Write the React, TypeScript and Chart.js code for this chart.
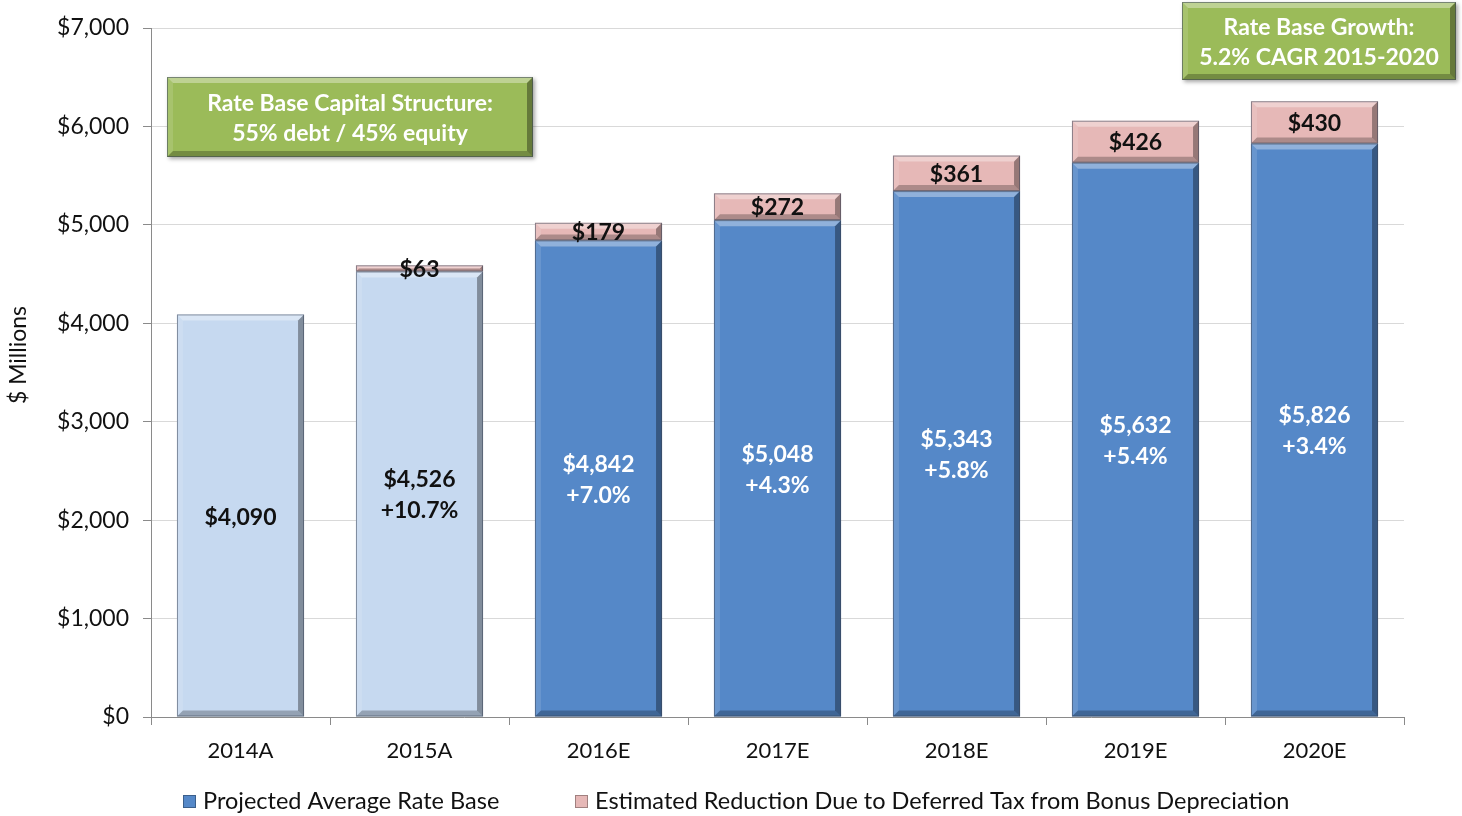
import React, { useEffect, useRef } from "react";
import { Chart, registerables } from "chart.js";

Chart.register(...registerables);

const categories = ["2014A", "2015A", "2016E", "2017E", "2018E", "2019E", "2020E"];
const rateBase = [4090, 4526, 4842, 5048, 5343, 5632, 5826];
const reduction = [0, 63, 179, 272, 361, 426, 430];
const rateBaseLabels = ["$4,090", "$4,526", "$4,842", "$5,048", "$5,343", "$5,632", "$5,826"];
const growthLabels = ["", "+10.7%", "+7.0%", "+4.3%", "+5.8%", "+5.4%", "+3.4%"];
const reductionLabels = ["", "$63", "$179", "$272", "$361", "$426", "$430"];
const yTicks = [0, 1000, 2000, 3000, 4000, 5000, 6000, 7000];
const seriesNames = ["Projected Average Rate Base", "Estimated Reduction Due to Deferred Tax from Bonus Depreciation"];
const yTitle = "$ Millions";

const FONT = "Lato, 'Open Sans', sans-serif";
const LIGHT_BLUE = "rgb(198,217,240)";
const DARK_BLUE = "rgb(85,136,200)";
const PINK = "rgb(230,184,183)";
const GREEN = "rgb(155,187,89)";

function bevel(ctx: CanvasRenderingContext2D, x0: number, y0: number, x1: number, y1: number, s: number) {
  const h = y1 - y0;
  const w = x1 - x0;
  const t = Math.min(s, h / 2, w / 2);
  if (h <= 1) return;
  ctx.save();
  ctx.fillStyle = "rgba(255,255,255,0.35)";
  ctx.beginPath();
  ctx.moveTo(x0, y0);
  ctx.lineTo(x1, y0);
  ctx.lineTo(x1 - t, y0 + t);
  ctx.lineTo(x0 + t, y0 + t);
  ctx.closePath();
  ctx.fill();
  ctx.fillStyle = "rgba(255,255,255,0.12)";
  ctx.beginPath();
  ctx.moveTo(x0, y0);
  ctx.lineTo(x0 + t, y0 + t);
  ctx.lineTo(x0 + t, y1 - t);
  ctx.lineTo(x0, y1);
  ctx.closePath();
  ctx.fill();
  ctx.fillStyle = "rgba(0,0,0,0.35)";
  ctx.beginPath();
  ctx.moveTo(x1, y0);
  ctx.lineTo(x1, y1);
  ctx.lineTo(x1 - t, y1 - t);
  ctx.lineTo(x1 - t, y0 + t);
  ctx.closePath();
  ctx.fill();
  ctx.fillStyle = "rgba(0,0,0,0.25)";
  ctx.beginPath();
  ctx.moveTo(x0, y1);
  ctx.lineTo(x1, y1);
  ctx.lineTo(x1 - t, y1 - t);
  ctx.lineTo(x0 + t, y1 - t);
  ctx.closePath();
  ctx.fill();
  ctx.strokeStyle = "rgba(60,70,90,0.55)";
  ctx.lineWidth = 1;
  ctx.strokeRect(x0 + 0.5, y0 + 0.5, w - 1, h - 1);
  ctx.restore();
}

const decorPlugin = {
  id: "decor",
  afterDatasetsDraw(chart: any) {
    const ctx: CanvasRenderingContext2D = chart.ctx;
    chart.data.datasets.forEach((_: any, di: number) => {
      const meta = chart.getDatasetMeta(di);
      meta.data.forEach((el: any) => {
        const w = el.width;
        const x0 = el.x - w / 2;
        const x1 = el.x + w / 2;
        const y0 = Math.min(el.y, el.base);
        const y1 = Math.max(el.y, el.base);
        bevel(ctx, x0, y0, x1, y1, 6);
      });
    });
    ctx.save();
    ctx.textAlign = "center";
    ctx.textBaseline = "middle";
    ctx.font = `bold 23px ${FONT}`;
    const m0 = chart.getDatasetMeta(0);
    m0.data.forEach((el: any, i: number) => {
      const cy = (el.y + el.base) / 2;
      ctx.fillStyle = i < 2 ? "#111" : "#fff";
      if (growthLabels[i]) {
        ctx.fillText(rateBaseLabels[i], el.x, cy - 14);
        ctx.fillText(growthLabels[i], el.x, cy + 17);
      } else {
        ctx.fillText(rateBaseLabels[i], el.x, cy + 2);
      }
    });
    const m1 = chart.getDatasetMeta(1);
    m1.data.forEach((el: any, i: number) => {
      if (!reductionLabels[i]) return;
      const cy = (el.y + el.base) / 2;
      ctx.fillStyle = "#111";
      ctx.fillText(reductionLabels[i], el.x, cy + 1);
    });
    ctx.restore();
  },
  afterDraw(chart: any) {
    const ctx: CanvasRenderingContext2D = chart.ctx;
    const box = (x: number, y: number, w: number, h: number, lines: string[], ys: number[]) => {
      ctx.save();
      ctx.shadowColor = "rgba(0,0,0,0.35)";
      ctx.shadowBlur = 4;
      ctx.shadowOffsetX = 2;
      ctx.shadowOffsetY = 2;
      ctx.fillStyle = GREEN;
      ctx.fillRect(x, y, w, h);
      ctx.restore();
      bevel(ctx, x, y, x + w, y + h, 6);
      ctx.save();
      ctx.fillStyle = "#fff";
      ctx.font = `bold 23px ${FONT}`;
      ctx.textAlign = "center";
      ctx.textBaseline = "middle";
      lines.forEach((l, i) => ctx.fillText(l, x + w / 2, ys[i]));
      ctx.restore();
    };
    box(167, 77, 366, 80, ["Rate Base Capital Structure:", "55% debt / 45% equity"], [104, 134]);
    box(1182, 2, 274, 78, ["Rate Base Growth:", "5.2% CAGR 2015-2020"], [28, 58]);

    // y title
    ctx.save();
    ctx.translate(19, 355);
    ctx.rotate(-Math.PI / 2);
    ctx.font = `23px ${FONT}`;
    ctx.fillStyle = "#111";
    ctx.textAlign = "center";
    ctx.textBaseline = "middle";
    ctx.fillText(yTitle, 0, 0);
    ctx.restore();

    // legend
    ctx.save();
    ctx.font = `23.5px ${FONT}`;
    ctx.textBaseline = "middle";
    ctx.textAlign = "left";
    const ly = 801;
    const items = [
      { x: 183, c: DARK_BLUE, t: seriesNames[0] },
      { x: 575, c: PINK, t: seriesNames[1] },
    ];
    items.forEach((it) => {
      ctx.fillStyle = it.c;
      ctx.fillRect(it.x, ly - 6, 13, 13);
      ctx.strokeStyle = "rgba(0,0,0,0.3)";
      ctx.strokeRect(it.x + 0.5, ly - 5.5, 12, 12);
      ctx.fillStyle = "#111";
      ctx.fillText(it.t, it.x + 20, ly);
    });
    ctx.restore();
  },
};

export default function App() {
  const ref = useRef<HTMLCanvasElement | null>(null);
  useEffect(() => {
    if (!ref.current) return;
    const chart = new Chart(ref.current, {
      type: "bar",
      data: {
        labels: categories,
        datasets: [
          {
            label: seriesNames[0],
            data: rateBase,
            backgroundColor: rateBase.map((_, i) => (i < 2 ? LIGHT_BLUE : DARK_BLUE)),
            borderWidth: 0,
            barPercentage: 0.71,
            categoryPercentage: 1,
          },
          {
            label: seriesNames[1],
            data: reduction,
            backgroundColor: PINK,
            borderWidth: 0,
            barPercentage: 0.71,
            categoryPercentage: 1,
          },
        ],
      },
      options: {
        animation: false,
        responsive: false,
        maintainAspectRatio: false,
        layout: { padding: { top: 28, right: 58, bottom: 52, left: 0 } },
        plugins: { legend: { display: false }, tooltip: { enabled: false } },
        scales: {
          x: {
            stacked: true,
            grid: { drawOnChartArea: false, drawTicks: true, tickLength: 8, offset: true, color: "#8a8a8a" },
            border: { color: "#8a8a8a" },
            ticks: { color: "#111", font: { family: FONT, size: 22 }, padding: 13 },
            afterFit: (s: any) => { s.height = 47; },
          },
          y: {
            stacked: true,
            min: 0,
            max: 7000,
            afterBuildTicks: (s: any) => { s.ticks = yTicks.map((v) => ({ value: v })); },
            grid: { color: "#d9d9d9", tickLength: 8, tickColor: "#8a8a8a" },
            border: { color: "#8a8a8a" },
            ticks: {
              color: "#111",
              font: { family: FONT, size: 23 },
              padding: 14,
              callback: (v: any) => "$" + Number(v).toLocaleString("en-US"),
            },
            afterFit: (s: any) => { s.width = 151; },
          },
        },
      },
      plugins: [decorPlugin],
    });
    return () => chart.destroy();
  }, []);
  return (
    <div style={{ position: "absolute", left: 0, top: 0, width: 1462, height: 816, background: "#fff" }}>
      <canvas ref={ref} width={1462} height={816} style={{ width: 1462, height: 816 }} />
    </div>
  );
}
